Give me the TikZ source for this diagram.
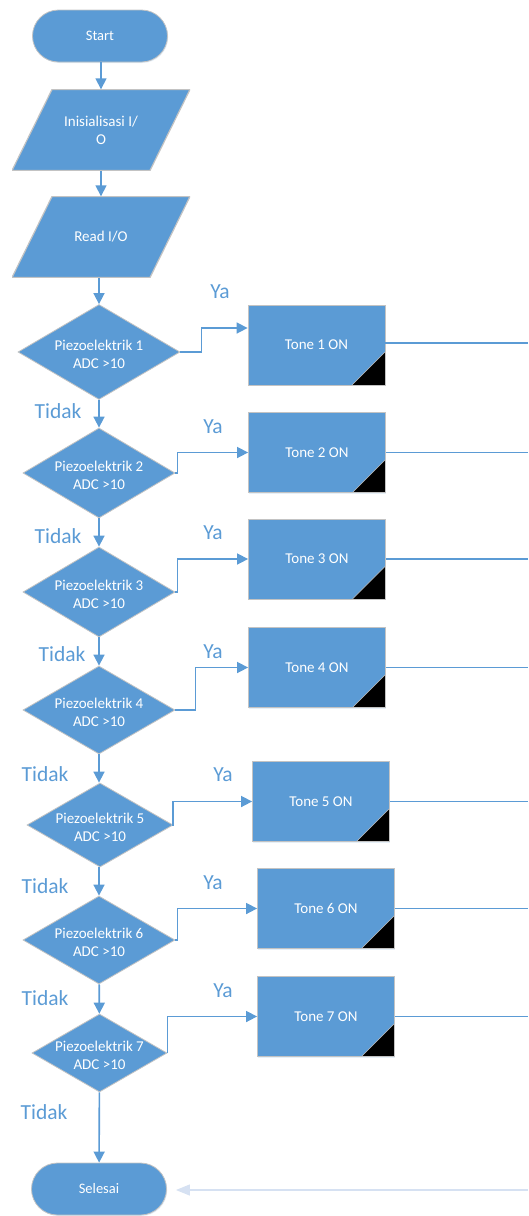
\documentclass[tikz,border=0pt]{standalone}
\usepackage{fontspec}
\setmainfont{Carlito}
\usetikzlibrary{shapes.geometric,arrows.meta,shadows}
\definecolor{obl}{RGB}{91,155,213}
\definecolor{edgegray}{RGB}{195,195,195}
\definecolor{faint}{RGB}{214,225,242}
\begin{document}
\begin{tikzpicture}[x=1pt,y=-1pt,
  base/.style={fill=obl, draw=edgegray, line width=0.8pt, text=white, font=\fontsize{15}{18}\selectfont, align=center},
  softshadow/.style={drop shadow={shadow xshift=0.8pt,shadow yshift=-1pt,fill=obl!30,opacity=0.5}},
  term/.style={base, softshadow, rectangle, rounded corners=26pt, minimum width=135pt, minimum height=52pt},
  io/.style={rectangle, text=white, font=\fontsize{15}{18}\selectfont, align=center, minimum width=178pt, minimum height=81pt, inner sep=0pt,
    path picture={\filldraw[fill=obl, draw=edgegray, line width=1.2pt]
      ([xshift=40pt]path picture bounding box.north west) -- (path picture bounding box.north east)
      -- ([xshift=-40pt]path picture bounding box.south east) -- (path picture bounding box.south west) -- cycle;}},
  tonebox/.style={base, softshadow, rectangle, minimum width=137pt, minimum height=80pt,
    path picture={\fill[black] ([xshift=-33pt]path picture bounding box.south east) -- (path picture bounding box.south east) -- ([yshift=33pt]path picture bounding box.south east) -- cycle;
    \draw[gray!50,line width=0.6pt] ([xshift=-33pt]path picture bounding box.south east) -- ([yshift=33pt]path picture bounding box.south east);}},
  dec/.style={base, diamond, inner sep=0pt},
  dtext/.style={text=white, align=center, font=\fontsize{15}{18}\selectfont, inner sep=0pt},
  conn/.style={draw=obl, line width=1.6pt, -{Triangle[width=11pt,length=11pt]}},
  outline/.style={draw=obl, line width=1.2pt},
  back/.style={draw=faint, line width=1.2pt, -{Triangle[width=11pt,length=14pt]}, shorten >=9pt},
  lbl/.style={text=obl, font=\fontsize{21.5}{24}\selectfont, inner sep=0pt},
]
\useasboundingbox (0,0) rectangle (528,1216);

\node[term] (start) at (100,36) {\fontsize{14.5}{17}\selectfont Start};
\node[io] (init) at (101,130) {Inisialisasi I/\\O};
\node[io] (read) at (101,237) {Read I/O};

\node[dec, minimum width=162pt, minimum height=95pt, label={[dtext,yshift=-2pt]center:Piezoelektrik 1\\ADC >10}] (d1) at (99,352) {};
\node[dec, minimum width=152pt, minimum height=90pt, label={[dtext,yshift=-2pt]center:Piezoelektrik 2\\ADC >10}] (d2) at (99,473) {};
\node[dec, minimum width=152pt, minimum height=90pt, label={[dtext,yshift=-2pt]center:Piezoelektrik 3\\ADC >10}] (d3) at (99,592) {};
\node[dec, minimum width=152pt, minimum height=88pt, label={[dtext,yshift=-2pt]center:Piezoelektrik 4\\ADC >10}] (d4) at (99,710) {};
\node[dec, minimum width=146pt, minimum height=84pt, label={[dtext,yshift=-2pt]center:Piezoelektrik 5\\ADC >10}] (d5) at (100,825) {};
\node[dec, minimum width=152pt, minimum height=88pt, label={[dtext,yshift=-2pt]center:Piezoelektrik 6\\ADC >10}] (d6) at (99,940) {};
\node[dec, minimum width=135pt, minimum height=78pt, label={[dtext,yshift=-2pt]center:Piezoelektrik 7\\ADC >10}] (d7) at (99.5,1053) {};

\node[term] (end) at (99,1189) {\fontsize{14.5}{17}\selectfont Selesai};

\node[tonebox] (t1) at (316.5,345) {Tone 1 ON};
\node[tonebox] (t2) at (317,452.5) {Tone 2 ON};
\node[tonebox] (t3) at (317,559) {Tone 3 ON};
\node[tonebox] (t4) at (317,667.5) {Tone 4 ON};
\node[tonebox] (t5) at (321,801.5) {Tone 5 ON};
\node[tonebox] (t6) at (326,908.5) {Tone 6 ON};
\node[tonebox] (t7) at (326,1016.5) {Tone 7 ON};

% main vertical flow
\draw[conn] (start.south -| init.north) -- (init.north);
\draw[conn] (init.south) -- (read.north);
\draw[conn] (read.south -| d1.north) -- (d1.north);
\draw[conn] (d1) -- (d2);
\draw[conn] (d2) -- (d3);
\draw[conn] (d3) -- (d4);
\draw[conn] (d4.south) -- (d5.north -| d4.south);
\draw[conn] (d5.south -| d6.north) -- (d6);
\draw[conn] (d6) -- (d7);
\draw[conn] (d7) -- (end);

% yes branches
\draw[conn] (d1.east) -- ++(21,0) |- ([yshift=17pt]t1.west);
\draw[conn] (d2.east) -- ++(2,0) |- (t2.west);
\draw[conn] (d3.east) -- ++(2,0) |- (t3.west);
\draw[conn] (d4.east) -- ++(20,0) |- (t4.west);
\draw[conn] (d5.east) -- ++(-0.5,0) |- (t5.west);
\draw[conn] (d6.east) -- ++(2,0) |- (t6.west);
\draw[conn] (d7.east) -- ++(0,0) |- (t7.west);

% outgoing lines to the right edge
\coordinate (edge) at (528,0);
\draw[outline] ([yshift=2pt]t1.east) -- ([yshift=2pt]t1.east -| edge);
\draw[outline] (t2.east) -- (t2.east -| edge);
\draw[outline] (t3.east) -- (t3.east -| edge);
\draw[outline] (t4.east) -- (t4.east -| edge);
\draw[outline] (t5.east) -- (t5.east -| edge);
\draw[outline] (t6.east) -- (t6.east -| edge);
\draw[outline] (t7.east) -- (t7.east -| edge);

% return line into Selesai
\coordinate (ret) at (528,1190);
\draw[back] (ret) -- (end.east |- ret);

% labels
\node[lbl] (ya1) at (220,292) {Ya};
\node[lbl] (ya2) at (213,427) {Ya};
\node[lbl] (ya3) at (213,533) {Ya};
\node[lbl] (ya4) at (213,652) {Ya};
\node[lbl] (ya5) at (223,775) {Ya};
\node[lbl] (ya6) at (213,883) {Ya};
\node[lbl] (ya7) at (223,991) {Ya};

\node[lbl] (n1) at (58,411) {Tidak};
\node[lbl] (n2) at (58,536) {Tidak};
\node[lbl] (n3) at (62,654) {Tidak};
\node[lbl] (n4) at (45,774) {Tidak};
\node[lbl] (n5) at (45,886) {Tidak};
\node[lbl] (n6) at (45,998) {Tidak};
\node[lbl] (n7) at (44,1112) {Tidak};
\end{tikzpicture}
\end{document}
